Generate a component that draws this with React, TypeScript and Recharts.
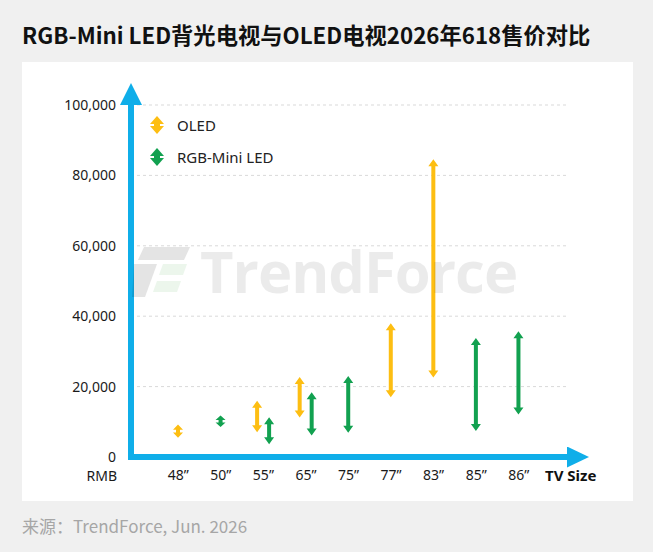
import React from "react";
import { Bar, CartesianGrid, ComposedChart, XAxis, YAxis } from "recharts";

const sizes = ["48”", "50”", "55”", "65”", "75”", "77”", "83”", "85”", "86”"];
const oledLow = [5500, null, 7000, 11200, null, 17000, 22600, null, null];
const oledHigh = [9200, null, 16000, 22700, null, 38000, 84600, null, null];
const rgbLow = [null, 8500, 3600, 6100, 6900, null, null, 7400, 12100];
const rgbHigh = [null, 11800, 11300, 18400, 23000, null, null, 33800, 35700];
const yTicks = [0, 20000, 40000, 60000, 80000, 100000];

const OLED = "#FDBE12";
const RGB = "#12A150";
const AXIS = "#0FAEE9";
const FONT = "'Noto Sans', 'Noto Sans CJK SC', sans-serif";

const BAR_SIZE = 8;
const BAR_GAP = 4;

const data = sizes.map((s, i) => ({
  size: s,
  oled: oledLow[i] == null ? null : [oledLow[i], oledHigh[i]],
  rgb: rgbLow[i] == null ? null : [rgbLow[i], rgbHigh[i]],
}));

// double headed arrow: tips sit on the low / high values
function arrowPoints(cx: number, top: number, h: number) {
  const head = Math.min(7, h * 0.4);
  const hw = 5;
  const sw = 2;
  const b = top + h;
  return [
    [cx, top],
    [cx + hw, top + head],
    [cx + sw, top + head],
    [cx + sw, b - head],
    [cx + hw, b - head],
    [cx, b],
    [cx - hw, b - head],
    [cx - sw, b - head],
    [cx - sw, top + head],
    [cx - hw, top + head],
  ]
    .map((p) => p.join(","))
    .join(" ");
}

function makeArrow(color: string, other: "oled" | "rgb", dir: number) {
  return (props: any) => {
    const { x, y, width, height, payload } = props;
    if (payload == null || height == null || Number.isNaN(y)) return <g />;
    const own = other === "rgb" ? payload.oled : payload.rgb;
    if (own == null) return <g />;
    // centre the arrow when the other series has no value for this size
    const shift = payload[other] == null ? (dir * (BAR_SIZE + BAR_GAP)) / 2 : 0;
    const cx = x + width / 2 + shift;
    return <polygon points={arrowPoints(cx, y, Math.abs(height))} fill={color} />;
  };
}

function LegendIcon({ color }: { color: string }) {
  const pts = "8,0 15,8 11,8 11,10 15,10 8,18 1,10 5,10 5,8 1,8";
  return (
    <svg width={16} height={18} style={{ display: "block" }}>
      <polygon points={pts} fill={color} />
    </svg>
  );
}

const legendRows = [
  { name: "OLED", color: OLED },
  { name: "RGB-Mini LED", color: RGB },
];

export default function App() {
  return (
    <div
      style={{
        position: "absolute",
        left: 0,
        top: 0,
        width: 653,
        height: 552,
        background: "#F0F0F0",
        fontFamily: FONT,
        overflow: "hidden",
      }}
    >
      <div
        style={{
          position: "absolute",
          left: 22,
          top: 18,
          fontSize: 22.3,
          fontWeight: 700,
          color: "#111",
          fontFamily: "'Noto Sans CJK SC', sans-serif",
          whiteSpace: "nowrap",
        }}
      >
        RGB-Mini LED背光电视与OLED电视2026年618售价对比
      </div>

      <div style={{ position: "absolute", left: 22, top: 62, width: 611, height: 439, background: "#fff" }} />

      <div style={{ position: "absolute", left: 22, top: 62 }}>
        <ComposedChart
          width={611}
          height={439}
          data={data}
          margin={{ top: 43, right: 66, bottom: 14, left: 19 }}
          barSize={BAR_SIZE}
          barGap={BAR_GAP}
        >
          <defs>
            <marker
              id="arrowX"
              markerUnits="userSpaceOnUse"
              viewBox="0 0 22 21"
              markerWidth={22}
              markerHeight={21}
              refX={0}
              refY={10.5}
              orient="auto"
            >
              <path d="M0,0 L22,10.5 L0,21 z" fill={AXIS} />
            </marker>
            <marker
              id="arrowY"
              markerUnits="userSpaceOnUse"
              viewBox="0 0 22 22"
              markerWidth={22}
              markerHeight={22}
              refX={0}
              refY={11}
              orient="auto-start-reverse"
            >
              <path d="M0,0 L22,11 L0,22 z" fill={AXIS} />
            </marker>
          </defs>
          <CartesianGrid horizontal vertical={false} stroke="#D9D9D9" strokeDasharray="3 3" />
          <XAxis
            dataKey="size"
            height={30}
            padding={{ left: 26, right: 27 }}
            tickLine={false}
            tickSize={0}
            tickMargin={13}
            tick={{ fill: "#1a1a1a", fontSize: 14, fontFamily: FONT }}
            axisLine={{ stroke: AXIS, strokeWidth: 6, strokeLinecap: "square", markerEnd: "url(#arrowX)" }}
          />
          <YAxis
            width={90}
            domain={[0, 100000]}
            ticks={yTicks}
            tickFormatter={(v: number) => v.toLocaleString("en-US")}
            tickLine={false}
            tickSize={0}
            tickMargin={15}
            tick={{ fill: "#1a1a1a", fontSize: 14, fontFamily: FONT }}
            axisLine={{ stroke: AXIS, strokeWidth: 6, strokeLinecap: "square", markerStart: "url(#arrowY)" }}
          />
          <Bar dataKey="oled" name="OLED" fill={OLED} isAnimationActive={false} shape={makeArrow(OLED, "rgb", 1)} />
          <Bar dataKey="rgb" name="RGB-Mini LED" fill={RGB} isAnimationActive={false} shape={makeArrow(RGB, "oled", -1)} />
        </ComposedChart>
      </div>

      {/* legend */}
      <div style={{ position: "absolute", left: 149, top: 109 }}>
        {legendRows.map((r) => (
          <div key={r.name} style={{ display: "flex", alignItems: "center", height: 32 }}>
            <LegendIcon color={r.color} />
            <span style={{ marginLeft: 12, fontSize: 15, color: "#222" }}>{r.name}</span>
          </div>
        ))}
      </div>

      {/* watermark */}
      <div style={{ position: "absolute", left: 130, top: 242, display: "flex", alignItems: "center", pointerEvents: "none" }}>
        <svg width={62} height={56} style={{ opacity: 0.1 }}>
          <polygon points="14,4 60,4 54,17 8,17" fill="#000" />
          <polygon points="4,21 27,21 15,54 2,54" fill="#000" />
          <polygon points="33,21 57,21 53,32 29,32" fill="#4caf50" />
          <polygon points="27,38 51,38 47,49 23,49" fill="#4caf50" />
        </svg>
        <span
          style={{
            marginLeft: 8,
            fontSize: 58,
            fontWeight: 700,
            color: "rgba(0,0,0,0.08)",
            fontFamily: "'Open Sans', sans-serif",
            letterSpacing: -1,
            lineHeight: "58px",
          }}
        >
          TrendForce
        </span>
      </div>

      <div style={{ position: "absolute", right: 653 - 117, top: 466, fontSize: 14, color: "#1a1a1a" }}>RMB</div>
      <div style={{ position: "absolute", left: 545, top: 465, fontSize: 15, fontWeight: 700, color: "#111" }}>TV Size</div>

      <div style={{ position: "absolute", left: 22, top: 513, fontSize: 17, color: "#A6A6A6", fontFamily: "'Noto Sans CJK SC', sans-serif" }}>
        来源：TrendForce, Jun. 2026
      </div>
    </div>
  );
}
